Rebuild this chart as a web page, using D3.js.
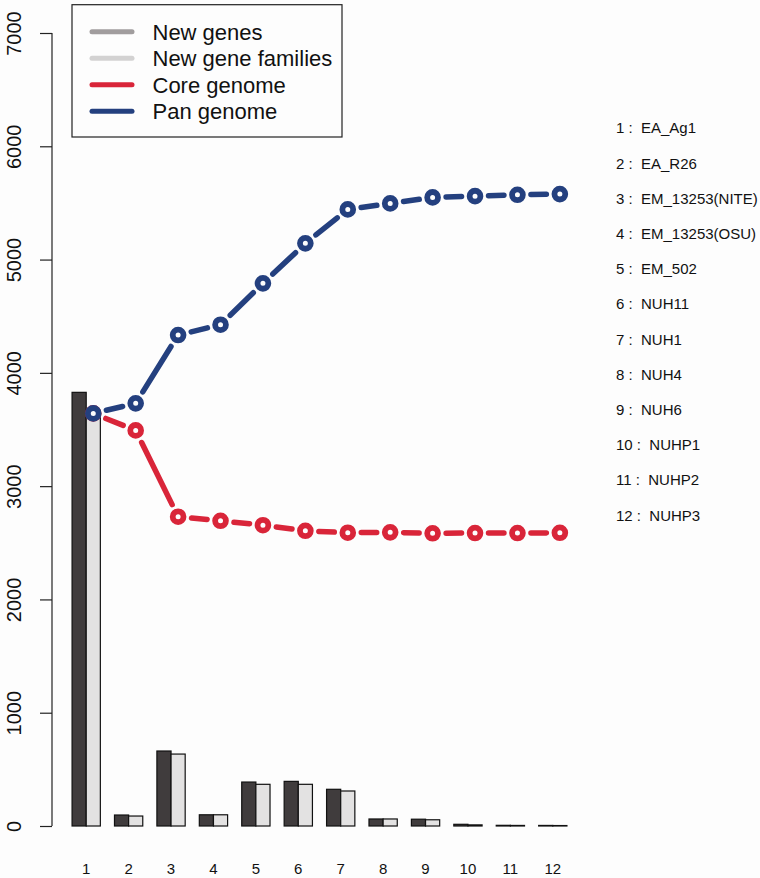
<!DOCTYPE html>
<html>
<head>
<meta charset="utf-8">
<script src="https://cdn.jsdelivr.net/npm/d3@7"></script>
<style>
  html, body { margin: 0; padding: 0; background: #fdfdfd; }
  svg { display: block; font-family: "Liberation Sans", Arial, Helvetica, sans-serif; }
</style>
</head>
<body>
<div id="chart"></div>
<script>
// ---- data ----
const categories = ["1","2","3","4","5","6","7","8","9","10","11","12"];
const genomeNames = ["EA_Ag1","EA_R26","EM_13253(NITE)","EM_13253(OSU)","EM_502","NUH11","NUH1","NUH4","NUH6","NUHP1","NUHP2","NUHP3"];
const newGenes       = [3828, 97, 662, 99, 388, 394, 324, 62, 60, 15, 6, 5];
const newFamilies    = [3640, 88, 635, 99, 368, 368, 309, 62, 55, 10, 5, 4];
const coreGenome     = [3642, 3492, 2730, 2694, 2655, 2606, 2589, 2592, 2584, 2586, 2586, 2588];
const panGenome      = [3642, 3731, 4334, 4425, 4790, 5143, 5443, 5496, 5549, 5560, 5572, 5578];
const yTicks = [0, 1000, 2000, 3000, 4000, 5000, 6000, 7000];
const legendLabels = ["New genes", "New gene families", "Core genome", "Pan genome"];
const legendColors = ["#a19d9e", "#d3d2d2", "#d92539", "#24407f"];

const W = 760, H = 878;
const svg = d3.select("#chart").append("svg").attr("width", W).attr("height", H);

const y = d3.scaleLinear().domain([0, 7000]).range([826, 33]);
const x = d3.scaleBand().domain(categories).range([65, 574]).paddingInner(1/3).paddingOuter(1/6);
const xs = d3.scaleBand().domain(["genes", "families"]).range([0, x.bandwidth()]);

// y axis
const yAxis = svg.append("g").attr("transform", "translate(52,0)")
  .call(d3.axisLeft(y).tickValues(yTicks).tickSize(12).tickSizeOuter(0).tickPadding(0).tickFormat(d3.format("d")));
yAxis.select(".domain").attr("stroke", "#222").attr("stroke-width", 1.2).attr("d", `M0,${y(7000)}V${y(0)}`);
yAxis.selectAll(".tick line").attr("stroke", "#222").attr("stroke-width", 1.2);
yAxis.selectAll(".tick text")
  .attr("transform", "rotate(-90)")
  .attr("x", 0).attr("y", -31)
  .attr("dy", 0)
  .attr("text-anchor", "middle")
  .attr("fill", "#111")
  .style("font-size", "20px");

// bars
const groups = svg.append("g").selectAll("g").data(categories).join("g")
  .attr("transform", d => `translate(${x(d)},0)`);
groups.append("rect")
  .attr("x", xs("genes")).attr("width", xs.bandwidth())
  .attr("y", (d, i) => y(newGenes[i])).attr("height", (d, i) => y(0) - y(newGenes[i]))
  .attr("fill", "#403c3d").attr("stroke", "#111").attr("stroke-width", 1.2);
groups.append("rect")
  .attr("x", xs("families")).attr("width", xs.bandwidth())
  .attr("y", (d, i) => y(newFamilies[i])).attr("height", (d, i) => y(0) - y(newFamilies[i]))
  .attr("fill", "#e3e2e2").attr("stroke", "#111").attr("stroke-width", 1.2);

// x labels
svg.append("g").selectAll("text").data(categories).join("text")
  .attr("x", d => x(d) + x.bandwidth() / 2)
  .attr("y", 874)
  .attr("text-anchor", "middle")
  .attr("fill", "#111")
  .style("font-size", "15px")
  .text(d => d);

// lines (type "b": segments with gaps around points)
const px = d => x(d) + xs("families") + xs.bandwidth() / 2;
function drawSeries(values, color) {
  const g = svg.append("g");
  const pts = categories.map((c, i) => [px(c), y(values[i])]);
  const gap = 13.5;
  for (let i = 0; i < pts.length - 1; i++) {
    const [x0, y0] = pts[i], [x1, y1] = pts[i + 1];
    const dx = x1 - x0, dy = y1 - y0, len = Math.hypot(dx, dy);
    if (len <= 2 * gap) continue;
    const ux = dx / len, uy = dy / len;
    g.append("line")
      .attr("x1", x0 + ux * gap).attr("y1", y0 + uy * gap)
      .attr("x2", x1 - ux * gap).attr("y2", y1 - uy * gap)
      .attr("stroke", color).attr("stroke-width", 5.5).attr("stroke-linecap", "round");
  }
  g.selectAll("circle").data(pts).join("circle")
    .attr("cx", d => d[0]).attr("cy", d => d[1]).attr("r", 5.4)
    .attr("fill", "#fdfdfd").attr("stroke", color).attr("stroke-width", 5.8);
}
drawSeries(coreGenome, legendColors[2]);
drawSeries(panGenome, legendColors[3]);

// legend
const lg = svg.append("g");
lg.append("rect").attr("x", 72).attr("y", 4.7).attr("width", 270).attr("height", 132.3)
  .attr("fill", "#fdfdfd").attr("stroke", "#222").attr("stroke-width", 1.2);
legendLabels.forEach((lab, i) => {
  const ly = 31.7 + i * 26.5;
  lg.append("line").attr("x1", 92).attr("x2", 132).attr("y1", ly).attr("y2", ly)
    .attr("stroke", legendColors[i]).attr("stroke-width", 5).attr("stroke-linecap", "round");
  lg.append("text").attr("x", 152.5).attr("y", ly + 8)
    .attr("fill", "#111").style("font-size", "22px").text(lab);
});

// right-side genome names
svg.append("g").selectAll("text").data(genomeNames).join("text")
  .attr("x", 616)
  .attr("y", (d, i) => 128.3 + i * 35.2 + 5)
  .attr("fill", "#111")
  .style("font-size", "15px")
  .style("white-space", "pre")
  .text((d, i) => `${categories[i]} :  ${d}`);
</script>
</body>
</html>
